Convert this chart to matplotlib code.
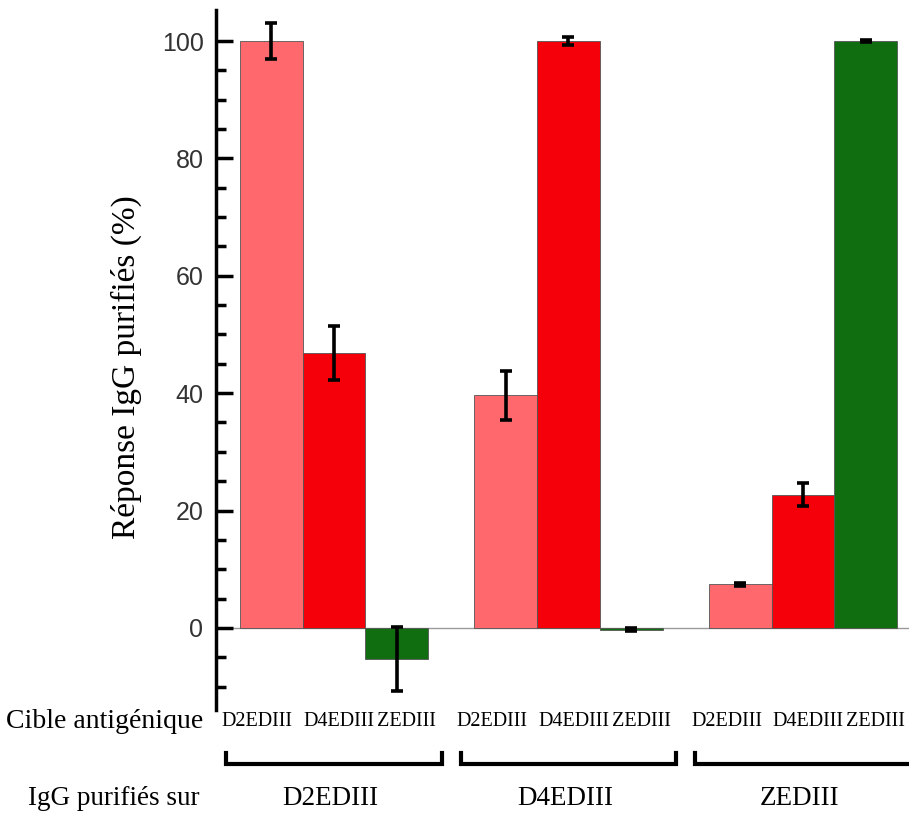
import numpy as np
import matplotlib as mpl
import matplotlib.pyplot as plt
import matplotlib.transforms as mtransforms

# data
groups = ['D2EDIII', 'D4EDIII', 'ZEDIII']          # IgG purifiés sur
targets = ['D2EDIII', 'D4EDIII', 'ZEDIII']         # cible antigénique
values = {
    'D2EDIII': [100.0, 39.6, 7.4],
    'D4EDIII': [46.8, 100.0, 22.7],
    'ZEDIII': [-5.3, -0.3, 100.0],
}
errors = {
    'D2EDIII': [3.0, 4.2, 0.2],
    'D4EDIII': [4.6, 0.7, 2.0],
    'ZEDIII': [5.5, 0.3, 0.2],
}
colors = {'D2EDIII': '#FF696E', 'D4EDIII': '#F5000A', 'ZEDIII': '#116E10'}

serif = ['Liberation Serif', 'DejaVu Serif']
sans = ['Liberation Sans', 'DejaVu Sans']

fig = plt.figure(figsize=(9.09, 8.13), dpi=100, facecolor='white')
ax = fig.add_axes([216 / 909, 1 - 710 / 813, 1 - 216 / 909, 700 / 813])

group_step = 3.74
centers = np.arange(len(groups)) * group_step + 1.0
offsets = np.array([-1.0, 0.0, 1.0])
label_offsets = np.array([-1.22, 0.08, 1.16])   # where the small target labels sit
width = 1.0

for j, t in enumerate(targets):
    x = centers + offsets[j]
    ax.bar(x, values[t], width=width, color=colors[t], edgecolor='#555555',
           linewidth=0.6, zorder=2)
    ax.errorbar(x, values[t], yerr=errors[t], fmt='none', ecolor='black',
                elinewidth=2.6, capsize=4.5, capthick=2.6, zorder=3)

ax.axhline(0, color='#9a9a9a', linewidth=1.0, zorder=1)

ax.set_xlim(-0.88, 10.17)
ax.set_ylim(-14, 105.3)
ax.set_yticks([0, 20, 40, 60, 80, 100])
ax.set_yticks(np.arange(-10, 105, 5), minor=True)
ax.set_xticks([])
for s in ['top', 'right', 'bottom']:
    ax.spines[s].set_visible(False)
ax.spines['left'].set_linewidth(2.5)
ax.tick_params(axis='y', which='major', direction='in', length=12, width=2.5,
               labelsize=18, labelcolor='#333333', pad=9)
ax.tick_params(axis='y', which='minor', direction='in', length=7, width=2.5)
for lab in ax.get_yticklabels():
    lab.set_family(sans)
ax.set_ylabel('Réponse IgG purifiés (%)', family=serif, fontsize=24)
ax.yaxis.set_label_coords(-74 / 693, 0.49)

# labels under the axes
trans = mtransforms.blended_transform_factory(ax.transData, ax.transAxes)
y_cible = -0.016
y_brk = -0.077
y_grp = -0.126
fig.text(203 / 909, 1 - 721 / 813, 'Cible antigénique', family=serif,
         fontsize=20, ha='right', va='center')
fig.text(199 / 909, 1 - 798 / 813, 'IgG purifiés sur', family=serif,
         fontsize=19.5, ha='right', va='center')
for i, g in enumerate(groups):
    for j, t in enumerate(targets):
        ax.text(centers[i] + label_offsets[j], y_cible, t, transform=trans,
                family=serif, fontsize=14.5, ha='center', va='center', clip_on=False)
    half = 1.72
    ax.plot([centers[i] - half, centers[i] - half, centers[i] + half, centers[i] + half],
            [y_brk + 0.015, y_brk, y_brk, y_brk + 0.015], transform=trans,
            color='black', linewidth=3, clip_on=False, solid_joinstyle='miter')
    ax.text(centers[i] - 0.05, y_grp, g, transform=trans, family=serif,
            fontsize=19.5, ha='center', va='center', clip_on=False)

fig.savefig('out.png', dpi=100, facecolor='white')
